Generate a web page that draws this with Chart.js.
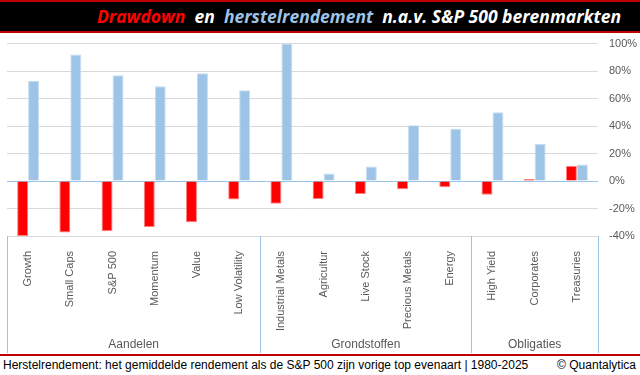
<!DOCTYPE html>
<html lang="nl">
<head>
<meta charset="UTF-8">
<title>Drawdown en herstelrendement</title>
<script src="https://cdn.jsdelivr.net/npm/chart.js"></script>
<style>
  body { margin: 0; width: 640px; height: 375px; background: #fff; position: relative; overflow: hidden; font-family: "Liberation Sans", Arial, sans-serif; }
  #title { position: absolute; left: 0; top: 0; width: 640px; height: 29px; background: #000; border-top: 2px solid #c00000; border-bottom: 2px solid #c00000;
           font: italic bold 17.5px "Open Sans", sans-serif; line-height: 29px; color: #fff; white-space: nowrap; }
  #title .t { position: absolute; left: 97px; top: 0; }
  #wrap { position: absolute; left: 0; top: 26px; width: 640px; height: 328px; }
  #foot { position: absolute; left: 0; top: 354px; width: 640px; height: 21px; border-top: 2px solid #c00000; font-size: 12px; color: #000; line-height: 19px; }
  #foot .l { position: absolute; left: 3px; }
  #foot .r { position: absolute; right: 4px; }
</style>
</head>
<body>
<div id="title"><span class="t"><span style="color:#ff0000">Drawdown</span>&nbsp; en &nbsp;<span style="color:#9dc3e6">herstelrendement</span>&nbsp; n.a.v. S&amp;P 500 berenmarkten</span></div>
<div id="wrap"><canvas id="chart" width="640" height="328"></canvas></div>
<div id="foot"><span class="l">Herstelrendement: het gemiddelde rendement als de S&amp;P 500 zijn vorige top evenaart | 1980-2025</span><span class="r">© Quantalytica</span></div>
<script>
const categories = ["Growth", "Small Caps", "S&P 500", "Momentum", "Value", "Low Volatility",
  "Industrial Metals", "Agricultur", "Live Stock", "Precious Metals", "Energy",
  "High Yield", "Corporates", "Treasuries"];
const drawdown = [-40, -37.5, -36.5, -33.5, -30, -13.5, -16.5, -13, -9.5, -6, -4.5, -10, 1.5, 11];
const herstel = [73, 92, 77, 69, 78.5, 66, 100, 5.5, 10.5, 40.5, 38, 50, 27, 12];
const groups = ["Aandelen", "Grondstoffen", "Obligaties"];
const groupSizes = [6, 5, 3];
const yTicks = [-40, -20, 0, 20, 40, 60, 80, 100];

const grey = '#595959';
const sepColor = '#9dc3e6';

const groupPlugin = {
  id: 'groups',
  afterDraw(chart) {
    const x = chart.scales.x, area = chart.chartArea, ctx = chart.ctx;
    const half = (x.getPixelForValue(1) - x.getPixelForValue(0)) / 2;
    ctx.save();
    ctx.strokeStyle = sepColor;
    ctx.lineWidth = 1;
    ctx.fillStyle = grey;
    ctx.font = '12px "Liberation Sans", Arial, sans-serif';
    ctx.textAlign = 'center';
    ctx.textBaseline = 'middle';
    let start = 0;
    const edges = [area.left];
    groupSizes.forEach((n, g) => {
      const left = x.getPixelForValue(start) - half;
      const right = x.getPixelForValue(start + n - 1) + half;
      edges.push(right);
      ctx.fillText(groups[g], (left + right) / 2, 319);
      start += n;
    });
    edges.forEach(px => {
      const p = Math.round(px) + 0.5;
      ctx.beginPath();
      ctx.moveTo(p, area.bottom);
      ctx.lineTo(p, 327);
      ctx.stroke();
    });
    ctx.restore();
  }
};

new Chart(document.getElementById('chart'), {
  type: 'bar',
  data: {
    labels: categories,
    datasets: [
      { label: 'Drawdown', data: drawdown, backgroundColor: '#ff0000', borderColor: '#ff8080', borderWidth: 1 },
      { label: 'Herstelrendement', data: herstel, backgroundColor: '#9dc3e6', borderColor: '#c5dcf0', borderWidth: 1 }
    ]
  },
  options: {
    responsive: false,
    devicePixelRatio: 1,
    animation: false,
    layout: { padding: { left: 7, top: 0, right: 0, bottom: 0 } },
    datasets: { bar: { categoryPercentage: 0.52, barPercentage: 1 } },
    plugins: { legend: { display: false }, tooltip: { enabled: false } },
    scales: {
      x: {
        grid: { display: false },
        border: { display: false },
        ticks: {
          color: grey, font: { size: 11, family: '"Liberation Sans", Arial, sans-serif' },
          minRotation: 90, maxRotation: 90, autoSkip: false, padding: 7
        },
        afterFit(s) { s.height = 118; }
      },
      y: {
        position: 'right',
        min: -40, max: 100,
        border: { display: false },
        grid: {
          drawTicks: false,
          color: c => c.tick && c.tick.value === 0 ? sepColor : '#d9d9d9'
        },
        afterBuildTicks(s) { s.ticks = yTicks.map(v => ({ value: v })); },
        ticks: {
          color: grey, font: { size: 11, family: '"Liberation Sans", Arial, sans-serif' },
          padding: 11,
          callback: v => v + '%'
        },
        afterFit(s) { s.width = 42; }
      }
    }
  },
  plugins: [groupPlugin]
});
</script>
</body>
</html>
